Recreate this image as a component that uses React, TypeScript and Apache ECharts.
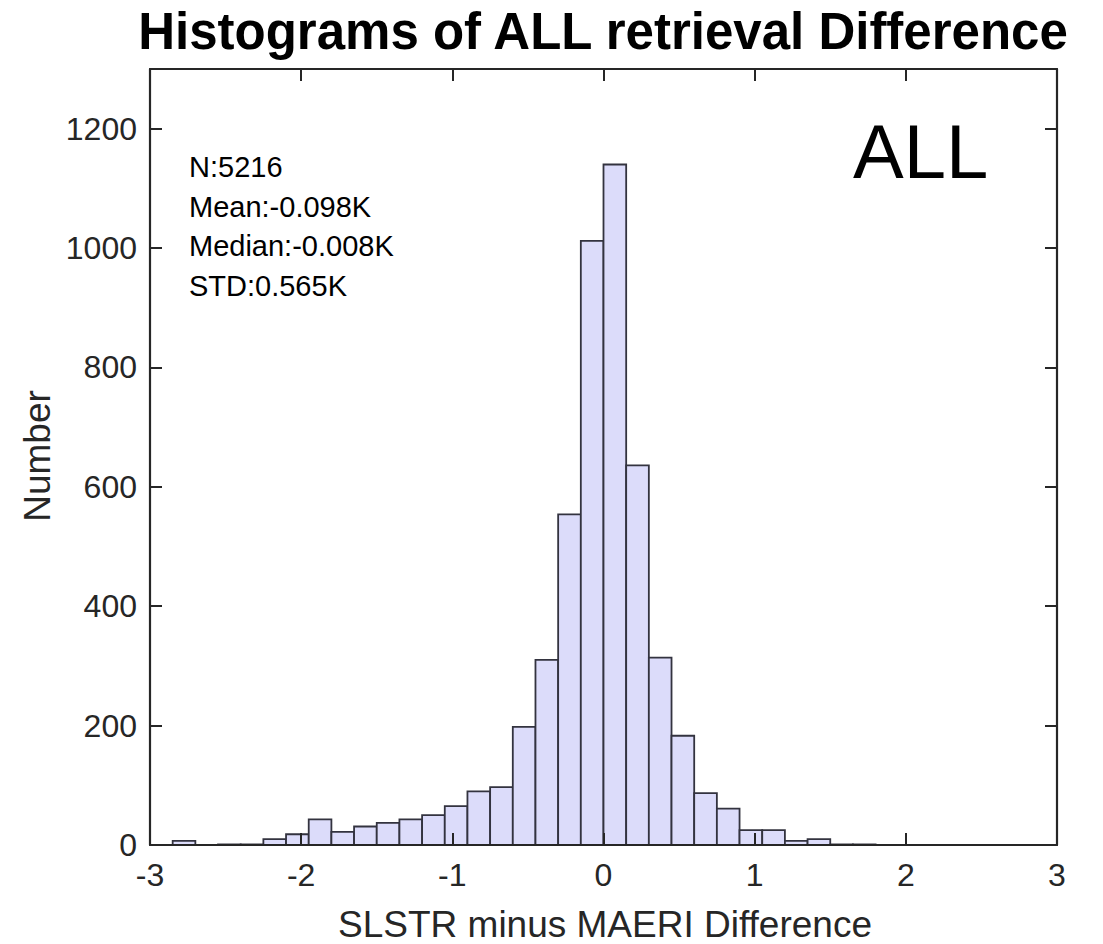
import React, { useEffect, useRef } from "react";
import * as echarts from "echarts";

const title = "Histograms of ALL retrieval Difference";
const xName = "SLSTR minus MAERI Difference";
const yName = "Number";
const tag = "ALL";
const statsLines = ["N:5216", "Mean:-0.098K", "Median:-0.008K", "STD:0.565K"];

const binWidth = 0.15;
const binStarts = [
  -2.85, -2.7, -2.55, -2.4, -2.25, -2.1, -1.95, -1.8, -1.65, -1.5, -1.35, -1.2,
  -1.05, -0.9, -0.75, -0.6, -0.45, -0.3, -0.15, 0, 0.15, 0.3, 0.45, 0.6, 0.75,
  0.9, 1.05, 1.2, 1.35, 1.5, 1.65,
];
const counts = [
  7, 0, 1, 1, 10, 18, 43, 22, 31, 37, 43, 50, 65, 90, 97, 198, 310, 554, 1012,
  1140, 636, 314, 183, 87, 61, 25, 25, 7, 10, 1, 1,
];

const xMin = -3;
const xMax = 3;
const xStep = 1;
const yMin = 0;
const yMax = 1300;
const yStep = 200;

const FONT = "'Liberation Sans', Arial, Helvetica, sans-serif";
const AXIS_COLOR = "#262626";

export default function App() {
  const ref = useRef<HTMLDivElement>(null);

  useEffect(() => {
    if (!ref.current) return;
    const chart = echarts.init(ref.current, undefined, { renderer: "svg" });
    const data = binStarts.map((s, i) => [s, s + binWidth, counts[i]]);

    const baseX = {
      type: "value" as const,
      min: xMin,
      max: xMax,
      interval: xStep,
      z: 10,
      splitLine: { show: false },
      axisLine: { show: true, onZero: false, lineStyle: { color: AXIS_COLOR, width: 2.2 } },
      axisTick: { show: true, inside: true, length: 12, lineStyle: { color: AXIS_COLOR, width: 2 } },
    };
    const baseY = {
      type: "value" as const,
      min: yMin,
      max: yMax,
      interval: yStep,
      z: 10,
      splitLine: { show: false },
      axisLine: { show: true, onZero: false, lineStyle: { color: AXIS_COLOR, width: 2.2 } },
      axisTick: { show: true, inside: true, length: 12, lineStyle: { color: AXIS_COLOR, width: 2 } },
    };

    chart.setOption({
      animation: false,
      backgroundColor: "#ffffff",
      grid: { left: 150, top: 69, right: 46, bottom: 99, containLabel: false },
      xAxis: [
        {
          ...baseX,
          position: "bottom",
          axisLabel: {
            show: true,
            fontSize: 32,
            color: AXIS_COLOR,
            fontFamily: FONT,
            margin: 14,
            formatter: (v: number) => String(v),
          },
        },
        {
          ...baseX,
          position: "top",
          axisLabel: { show: false },
        },
      ],
      yAxis: [
        {
          ...baseY,
          position: "left",
          axisLabel: {
            show: true,
            fontSize: 32,
            color: AXIS_COLOR,
            fontFamily: FONT,
            margin: 13,
            showMaxLabel: false,
            formatter: (v: number) => String(v),
          },
        },
        {
          ...baseY,
          position: "right",
          axisLabel: { show: false },
        },
      ],
      series: [
        {
          type: "custom",
          xAxisIndex: 0,
          yAxisIndex: 0,
          data,
          encode: { x: [0, 1], y: 2 },
          renderItem: (params: any, api: any) => {
            const lo = api.value(0);
            const hi = api.value(1);
            const v = api.value(2);
            const p0 = api.coord([lo, v]);
            const p1 = api.coord([hi, 0]);
            return {
              type: "rect",
              shape: { x: p0[0], y: p0[1], width: p1[0] - p0[0], height: p1[1] - p0[1] },
              style: { fill: "#dcdcfa", stroke: "#33333f", lineWidth: 1.8 },
            };
          },
        },
      ],
      graphic: [
        {
          type: "text",
          x: 603,
          y: 31,
          style: {
            text: title,
            font: `bold 51px ${FONT}`,
            fill: "#000000",
            align: "center",
            verticalAlign: "middle",
          },
        },
        {
          type: "text",
          x: 853,
          y: 151,
          style: {
            text: tag,
            font: `76px ${FONT}`,
            fill: "#000000",
            align: "left",
            verticalAlign: "middle",
          },
        },
        ...statsLines.map((t, i) => ({
          type: "text",
          x: 189,
          y: 167 + i * 39.6,
          style: {
            text: t,
            font: `29px ${FONT}`,
            fill: "#000000",
            align: "left",
            verticalAlign: "middle",
          },
        })),
        {
          type: "text",
          x: 605,
          y: 924,
          style: {
            text: xName,
            font: `37px ${FONT}`,
            fill: AXIS_COLOR,
            align: "center",
            verticalAlign: "middle",
          },
        },
        {
          type: "text",
          x: 37,
          y: 456,
          rotation: Math.PI / 2,
          style: {
            text: yName,
            font: `37px ${FONT}`,
            fill: AXIS_COLOR,
            align: "center",
            verticalAlign: "middle",
          },
        },
      ],
    });

    return () => chart.dispose();
  }, []);

  return (
    <div
      ref={ref}
      style={{ position: "fixed", left: 0, top: 0, width: 1103, height: 944, background: "#fff" }}
    />
  );
}
